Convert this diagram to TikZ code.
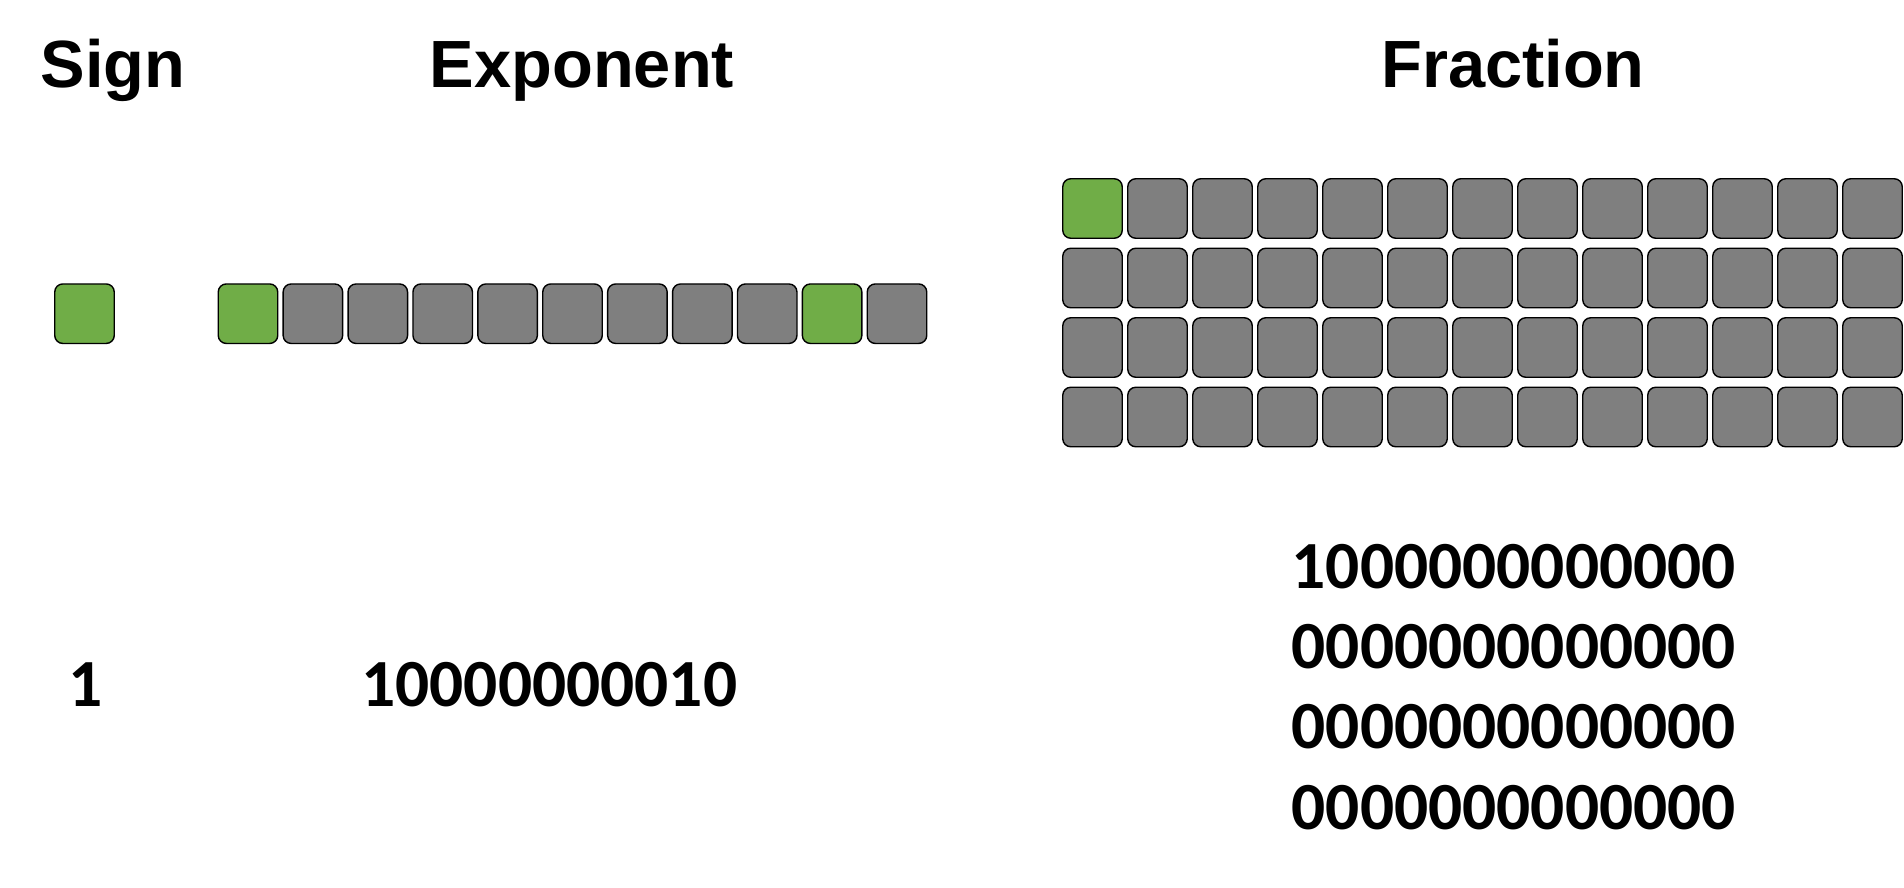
\documentclass[tikz,border=0pt]{standalone}
\usepackage{fontspec}
\setmainfont{Liberation Sans}
\newfontfamily\numfont{Carlito}
\definecolor{bitgreen}{RGB}{112,173,71}
\definecolor{bitgray}{RGB}{127,127,127}
\begin{document}
\begin{tikzpicture}[x=1pt,y=-1pt,
  bit/.style={draw=black, line width=1.4pt, rounded corners=8pt,
    minimum width=59.5pt, minimum height=59.5pt, inner sep=0pt, fill=bitgray},
  title/.style={anchor=base, inner sep=0pt, font=\fontsize{66.8}{80}\selectfont\bfseries},
  num/.style={anchor=base, inner sep=0pt, font=\fontsize{67.4}{80}\selectfont\numfont\bfseries}]
\useasboundingbox (0,0) rectangle (1904,887);
% titles
\node[title] (tsign) at (113,87.3) {Sign};
\node[title] (texp) at (582,87.3) {Exponent};
\node[title] (tfrac) at (1513,87.3) {Fraction};
% sign bit
\node[bit, fill=bitgreen] (s0) at (84.5,313.7) {};
% exponent bits
\foreach \i/\c in {0/bitgreen,1/bitgray,2/bitgray,3/bitgray,4/bitgray,5/bitgray,6/bitgray,7/bitgray,8/bitgray,9/bitgreen,10/bitgray}
  \node[bit, fill=\c] (e\i) at ({248+64.9*\i},313.7) {};
% fraction bits
\foreach \r in {0,...,3}
  \foreach \k in {0,...,12}{
    \ifnum\numexpr\r+\k\relax=0 \def\fc{bitgreen}\else\def\fc{bitgray}\fi
    \node[bit, fill=\fc] (f\r-\k) at ({1092.5+65*\k},{208.5+69.5*\r}) {};
  }
% values
\node[num] (vsign) at (85.7,706.7) {1};
\node[num] (vexp) at (549.3,706.7) {10000000010};
\node[num] (vf0) at (1513.8,588.3) {1000000000000};
\node[num] (vf1) at (1513.8,668.5) {0000000000000};
\node[num] (vf2) at (1513.8,748.7) {0000000000000};
\node[num] (vf3) at (1513.8,829.0) {0000000000000};
\end{tikzpicture}
\end{document}
